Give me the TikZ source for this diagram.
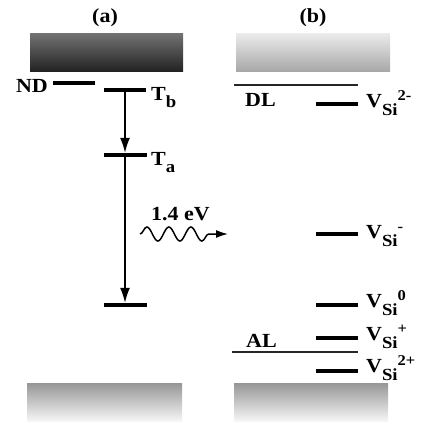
\documentclass[tikz,border=0pt]{standalone}
\usepackage{fontspec}
\setmainfont{Liberation Serif}[FakeStretch=1.1]
\usepackage{tikz}
\usetikzlibrary{arrows.meta,positioning,decorations.pathmorphing}

\definecolor{cbdark}{RGB}{35,35,35}
\definecolor{cbmid}{RGB}{115,115,115}
\definecolor{cblight}{RGB}{236,236,236}
\definecolor{cbgray}{RGB}{168,168,168}
\definecolor{vbgray}{RGB}{150,150,150}
\definecolor{vbwhite}{RGB}{246,246,246}

% V_Si with charge state
\newcommand{\vsi}[1]{V\raisebox{-8pt}{\fontsize{17}{17}\selectfont Si}\raisebox{7pt}{\fontsize{15}{15}\selectfont #1}}

\begin{document}
\begin{tikzpicture}[
  x=1pt,y=1pt,
  lab/.style={font=\fontsize{20}{24}\selectfont\bfseries,inner sep=0pt},
  level/.style={rectangle,fill=black,inner sep=0pt,
                minimum width=42pt,minimum height=4pt},
  arr/.style={-{Latex[length=15pt,width=10pt]},line width=1.5pt},
  thinline/.style={line width=1.3pt,black!85}
]
\useasboundingbox (0,0) rectangle (427,-424);

% bands
\shade[top color=cbmid,bottom color=cbdark] (30,-33) rectangle (183,-71);
\shade[top color=cblight,bottom color=cbgray] (236,-33) rectangle (390,-71);
\shade[top color=vbgray,bottom color=vbwhite] (27,-383) rectangle (182,-421);
\shade[top color=vbgray,bottom color=vbwhite] (234,-383) rectangle (388,-421);

\node[lab] (pa) at (105,-18) {(a)};
\node[lab] (pb) at (313,-18) {(b)};

% (a) levels
\node[level] (nd) at (74,-83) {};
\node[lab,anchor=base east] (ndlab) at (48,-92) {ND};
\node[level] (tb) at (125,-90) {};
\node[lab,anchor=base west] (tblab) at (151,-100) {T\raisebox{-7pt}{\fontsize{17}{17}\selectfont b}};
\node[level,minimum width=43pt] (ta) at (125,-155) {};
\node[lab,anchor=base west] (talab) at (151,-165) {T\raisebox{-7pt}{\fontsize{17}{17}\selectfont a}};
\node[level,minimum width=43pt] (gs) at (125,-305) {};

\draw[arr] (tb) -- (ta.north);
\draw[arr] (ta) -- (gs.north);

% photon
\coordinate (w1) at (140,-234);
\coordinate (w2) at (228,-234);
\draw[line width=1.5pt,-{Latex[length=12pt,width=8pt]},
      decorate,decoration={snake,amplitude=7pt,segment length=22pt,post length=14pt}]
  (w1) -- (w2);
\node[lab,anchor=base west] (ev) at (151,-220) {1.4 eV};

% (b) levels
\coordinate (dl1) at (234,-85);
\coordinate (dl2) at (358,-85);
\draw[thinline] (dl1) -- (dl2);
\node[lab,anchor=base west] (dllab) at (245,-106) {DL};
\coordinate (al1) at (232,-352);
\coordinate (al2) at (358,-352);
\draw[thinline] (al1) -- (al2);
\node[lab,anchor=base west] (allab) at (246,-347) {AL};

\node[level] (vmm) at (337,-104) {};
\node[lab,anchor=base west] at (366,-107) {\vsi{2-}};
\node[level] (vm) at (337,-234) {};
\node[lab,anchor=base west] at (366,-238) {\vsi{-}};
\node[level] (v0) at (337,-305) {};
\node[lab,anchor=base west] at (366,-307) {\vsi{0}};
\node[level] (vp) at (337,-338) {};
\node[lab,anchor=base west] at (366,-340) {\vsi{+}};
\node[level] (vpp) at (337,-371) {};
\node[lab,anchor=base west] at (366,-372) {\vsi{2+}};
\end{tikzpicture}
\end{document}
